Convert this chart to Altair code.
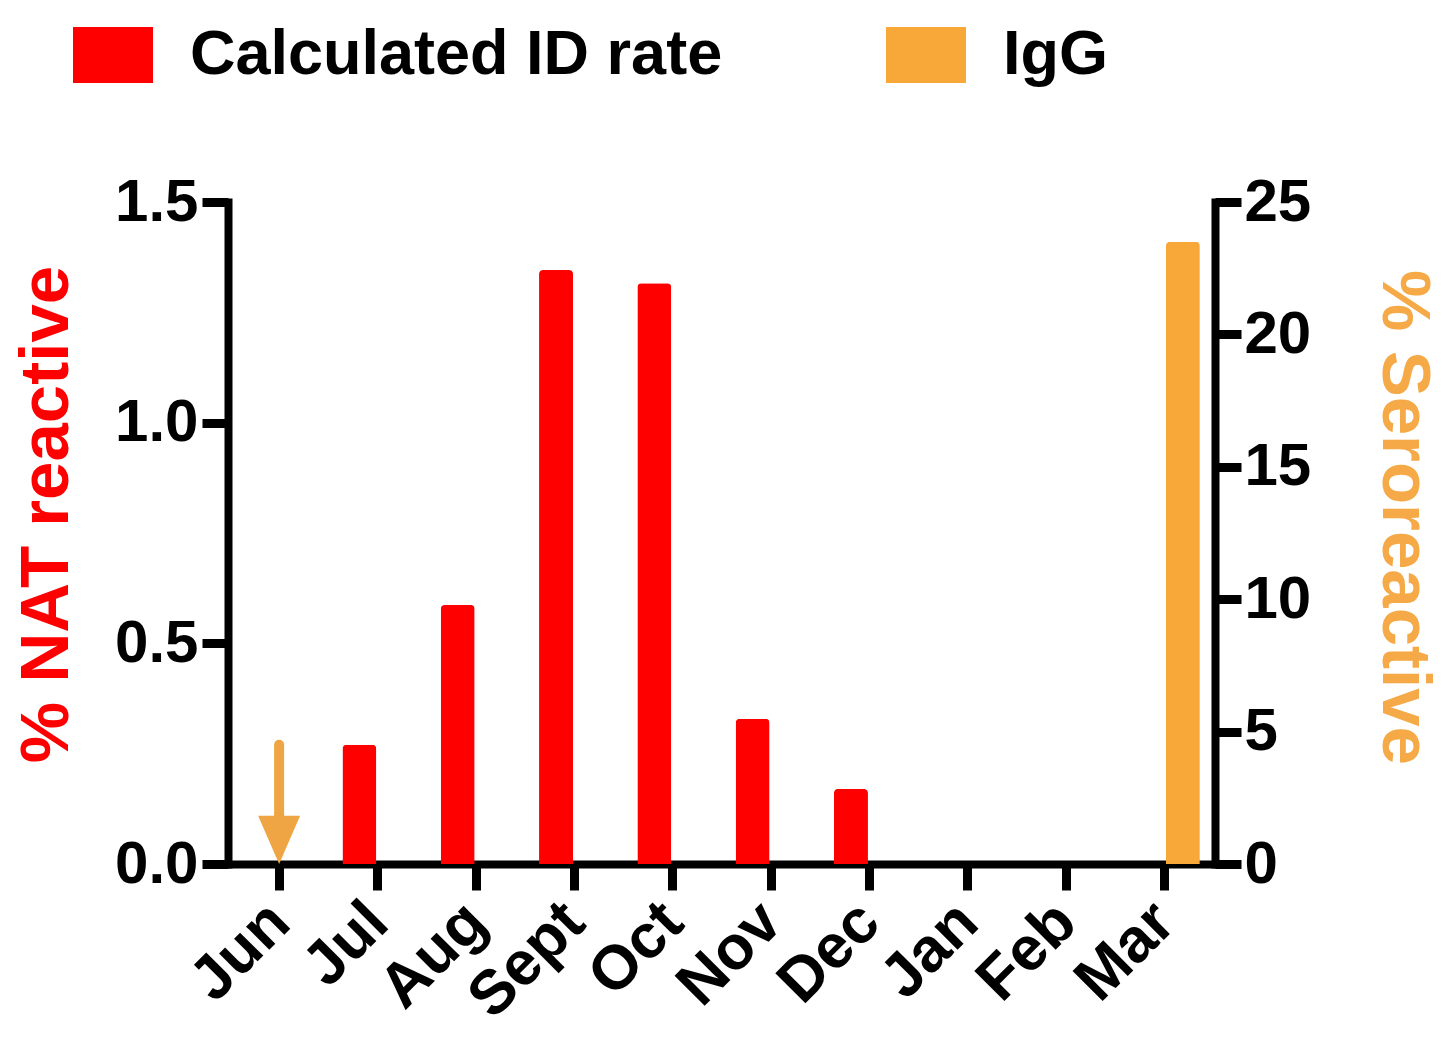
import altair as alt
import pandas as pd

# ---- data ----
months = ["Jun", "Jul", "Aug", "Sept", "Oct", "Nov", "Dec", "Jan", "Feb", "Mar"]
id_months = ["Jul", "Aug", "Sept", "Oct", "Nov", "Dec"]
id_rate = [0.270, 0.587, 1.346, 1.316, 0.329, 0.170]
igg_months = ["Mar"]
igg_sero = [23.5]
arrow_month = ["Jun"]
arrow_top = [0.27]
arrow_tail_end = [0.08]
arrow_tip = [0.0]
series = ["Calculated ID rate", "IgG"]
colors = ["#FF0000", "#F7A839"]
arrow_color = "#EFA543"
left_ticks = [0, 0.5, 1.0, 1.5]
right_ticks = [0, 5, 10, 15, 20, 25]

red_df = pd.DataFrame({"month": id_months, "rate": id_rate, "series": series[0]})
igg_df = pd.DataFrame({"month": igg_months, "sero": igg_sero, "series": series[1]})
arrow_df = pd.DataFrame({"month": arrow_month, "top": arrow_top,
                         "bottom": arrow_tail_end, "tip": arrow_tip})

FONT = "Liberation Sans"

x_enc = alt.X(
    "month:N",
    sort=months,
    scale=alt.Scale(type="point", domain=months, padding=0.52),
    axis=alt.Axis(
        title=None, labelAngle=-45, labelAlign="right", labelBaseline="middle",
        labelFontSize=62, labelPadding=22, labelFont=FONT, labelFontWeight="bold",
    ),
)

yl_scale = alt.Scale(domain=[0, 1.5], nice=False, zero=True)
yl_axis = alt.Axis(
    values=left_ticks, format=".1f", title="% NAT reactive", titleColor="#FF0000",
    titleFontSize=69, titleFont=FONT, titleFontWeight="bold", titlePadding=33,
    titleY=312, labelPadding=4, orient="left",
)
yr_scale = alt.Scale(domain=[0, 25], nice=False, zero=True)
yr_axis = alt.Axis(
    values=right_ticks, format="d", title="% Seroreactive", titleColor="#F5A947",
    titleFontSize=69, titleFont=FONT, titleFontWeight="bold", titlePadding=58,
    titleAngle=90, titleY=315, labelPadding=3, orient="right",
)

legend = alt.Legend(
    title=None, orient="none", legendX=-155, legendY=-187, direction="horizontal",
    symbolType="M-1,-0.7L1,-0.7L1,0.7L-1,0.7Z", symbolSize=6400,
    symbolStrokeWidth=0, symbolOpacity=1,
    labelFontSize=63, labelFont=FONT, labelFontWeight="bold", labelColor="black",
    labelOffset=37, columnPadding=163, labelLimit=1000, padding=0,
)
color_scale = alt.Scale(domain=series, range=colors)

red_bars = alt.Chart(red_df).mark_bar(
    width=34, xOffset=-18, cornerRadiusTopLeft=4, cornerRadiusTopRight=4
).encode(
    x=x_enc,
    y=alt.Y("rate:Q", scale=yl_scale, axis=yl_axis),
    color=alt.Color("series:N", scale=color_scale, legend=legend),
)

arrow_line = alt.Chart(arrow_df).mark_rule(
    color=arrow_color, strokeWidth=10, strokeCap="round"
).encode(
    x=x_enc,
    y=alt.Y("top:Q", scale=yl_scale, axis=yl_axis),
    y2="bottom:Q",
)

arrow_head = alt.Chart(arrow_df).mark_point(
    shape="M-1,-2.3L1,-2.3L0,0Z", size=1764, filled=True, color=arrow_color,
    opacity=1, strokeWidth=0,
).encode(
    x=x_enc,
    y=alt.Y("tip:Q", scale=yl_scale, axis=yl_axis),
)

igg_bars = alt.Chart(igg_df).mark_bar(
    width=34, xOffset=19, cornerRadiusTopLeft=4, cornerRadiusTopRight=4
).encode(
    x=x_enc,
    y=alt.Y("sero:Q", scale=yr_scale, axis=yr_axis),
    color=alt.Color("series:N", scale=color_scale, legend=legend),
)

inner = alt.layer(red_bars, arrow_line, arrow_head)

chart = alt.layer(inner, igg_bars).resolve_scale(y="independent").properties(
    width=987, height=662,
    padding={"left": 220, "top": 194, "right": 224, "bottom": 170},
    autosize=alt.AutoSizeParams(type="none"),
).configure_view(stroke=None).configure_axis(
    domainWidth=8, domainColor="black", tickWidth=9, tickColor="black",
    tickSize=26, labelFontSize=60, labelFont=FONT, labelFontWeight="bold",
    labelColor="black", grid=False, domainCap="square",
)

chart.save("out.html", embed_options={"renderer": "svg", "actions": False})
